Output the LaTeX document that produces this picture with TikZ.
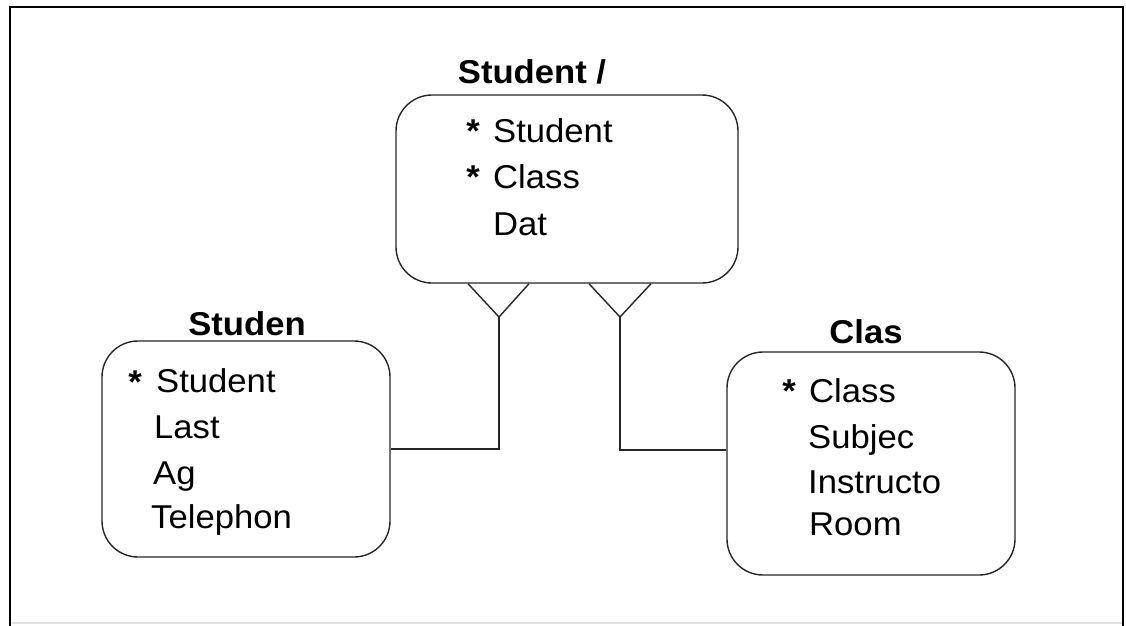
\documentclass[tikz,border=0pt]{standalone}
\usepackage{fontspec}
\setmainfont[FakeStretch=1.05]{Liberation Sans}
\begin{document}
\begin{tikzpicture}[x=1pt,y=-1pt,
  entity/.style={draw=black!85, line width=1.4pt, rounded corners=36pt, inner sep=0pt},
  title/.style={font=\fontsize{33}{33}\selectfont\bfseries, anchor=base, inner sep=0pt},
  attr/.style={font=\fontsize{33}{33}\selectfont, anchor=base west, inner sep=0pt},
  key/.style={font=\fontsize{33}{33}\selectfont\bfseries, inner sep=0pt},
  link/.style={draw=black!85, line width=1.4pt}]
\useasboundingbox (0,0) rectangle (1126,625);

% outer frame
\draw[line width=2.6pt] (10,626) -- (10,7) -- (1123,7) -- (1123,626);
\draw[black!12, line width=1.5pt] (12,623) -- (1122,623);

% entities
\node[entity, minimum width=342pt, minimum height=188pt] (top) at (567,189) {};
\node[entity, minimum width=288pt, minimum height=216pt] (left) at (246,449) {};
\node[entity, minimum width=288pt, minimum height=223pt] (right) at (871,463.5) {};

% titles
\node[title] (ttop) at (532,83) {Student /};
\node[title] (tleft) at (247,335) {Studen};
\node[title] (tright) at (866,343) {Clas};

% attributes of the link entity
\node[key] (k1) at (473,131) {*};
\node[attr] (a1) at (493,142) {Student};
\node[key] (k2) at (473,177) {*};
\node[attr] (a2) at (493,188) {Class};
\node[attr] (a3) at (493,235) {Dat};

% attributes of the student entity
\node[key] (k3) at (135,382) {*};
\node[attr] (b1) at (156,392) {Student};
\node[attr] (b2) at (154,438) {Last};
\node[attr] (b3) at (153,484) {Ag};
\node[attr] (b4) at (151,528) {Telephon};

% attributes of the class entity
\node[key] (k4) at (789,391) {*};
\node[attr] (c1) at (809,402) {Class};
\node[attr] (c2) at (808,448) {Subjec};
\node[attr] (c3) at (808,493) {Instructo};
\node[attr] (c4) at (809,535) {Room};

% relationships with crow's feet
\coordinate (f1) at (499,317);
\coordinate (f2) at (620,317);
\draw[link] (468,0 |- top.south) -- (f1) -- (529,0 |- top.south);
\draw[link] (f1) |- (left.east);
\draw[link] (589,0 |- top.south) -- (f2) -- (651,0 |- top.south);
\draw[link] (f2) |- (right.west |- 0,450);
\end{tikzpicture}
\end{document}
